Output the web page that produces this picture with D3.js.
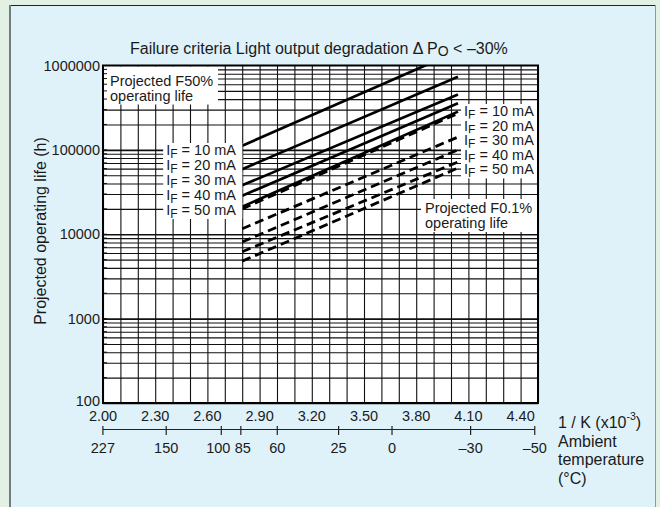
<!DOCTYPE html>
<html><head><meta charset="utf-8">
<script src="https://cdn.jsdelivr.net/npm/d3@7"></script>
<style>
html,body{margin:0;padding:0;background:#e3f1e4;}
svg{display:block;font-family:"Liberation Sans",Arial,Helvetica,sans-serif;}
</style></head>
<body>
<svg id="c" width="660" height="507"></svg>
<script>
// ---- data ----
const currents = [10, 20, 30, 40, 50];              // IF (mA)
const invK = [2.80, 4.04];                           // 1/K (x10^-3) span of the lines
const f50Start = [112000, 59000, 38000, 28600, 21200];
const f50End   = [1480000, 737000, 453000, 357000, 284000];
const f01Start = [20000, 11600, 8100, 6200, 4800];
const f01End   = [270000, 142000, 100000, 72000, 61000];
const xTickLabels = [2.00, 2.30, 2.60, 2.90, 3.20, 3.50, 3.80, 4.10, 4.40];
const yTickLabels = [100, 1000, 10000, 100000, 1000000];
const tempTicks = [227, 150, 100, 85, 60, 25, 0, -30, -50];

const svg = d3.select("#c");
// panel
svg.append("rect").attr("x",10).attr("y",5).attr("width",646).attr("height",510)
  .attr("fill","#dff2fa").attr("stroke","none");
svg.append("line").attr("x1",10).attr("x2",656).attr("y1",5.5).attr("y2",5.5).attr("stroke","#222").attr("stroke-width",1);
svg.append("line").attr("x1",10).attr("x2",10).attr("y1",5).attr("y2",507).attr("stroke","#6d7d82").attr("stroke-width",2);
svg.append("line").attr("x1",655.5).attr("x2",655.5).attr("y1",5).attr("y2",507).attr("stroke","#8a9aa0").attr("stroke-width",1);

const x = d3.scaleLinear().domain([2.0, 4.5]).range([103, 538]);
const y = d3.scaleLog().domain([100, 1e6]).range([403, 65.5]);
const X0 = x.range()[0], X1 = x.range()[1], Y0 = y.range()[1], Y1 = y.range()[0];

const txt = "#1a1a1a";
// plot background
svg.append("rect").attr("x",X0).attr("y",Y0).attr("width",X1-X0).attr("height",Y1-Y0).attr("fill","#fff");

// grid via axes
const vTicks = d3.range(0, 26).map(i => 2.0 + i*0.1);
const gV = svg.append("g").attr("transform",`translate(0,${Y1})`)
  .call(d3.axisBottom(x).tickValues(vTicks).tickSize(-(Y1-Y0)).tickFormat(""));
gV.select(".domain").remove();
gV.selectAll("line").attr("stroke","#111").attr("stroke-width",1.1);

const hTicks = [];
for (let e = 2; e < 6; e++) for (let m = 1; m <= 9; m++) hTicks.push(m*Math.pow(10,e));
const gH = svg.append("g").attr("transform",`translate(${X0},0)`)
  .call(d3.axisLeft(y).tickValues(hTicks).tickSize(-(X1-X0)).tickFormat(""));
gH.select(".domain").remove();
gH.selectAll("line").attr("stroke","#111")
  .attr("stroke-width", d => (Math.abs(Math.log10(d) - Math.round(Math.log10(d))) < 1e-9) ? 1.7 : 1.1);

// lines
svg.append("clipPath").attr("id","pc").append("rect")
  .attr("x",X0).attr("y",Y0).attr("width",X1-X0).attr("height",Y1-Y0);
const line = d3.line().x(d => x(d[0])).y(d => y(d[1]));
const gl = svg.append("g").attr("clip-path","url(#pc)");
currents.forEach((c,i) => {
  gl.append("path").datum([[invK[0], f01Start[i]],[invK[1], f01End[i]]])
    .attr("d", line).attr("fill","none").attr("stroke","#000").attr("stroke-width",2.8)
    .attr("stroke-dasharray","9,5");
});
currents.forEach((c,i) => {
  gl.append("path").datum([[invK[0], f50Start[i]],[invK[1], f50End[i]]])
    .attr("d", line).attr("fill","none").attr("stroke","#000").attr("stroke-width",2.7);
});

// annotation helper with white box
function label(g, parts, px, py, anchor, fs) {
  fs = fs || 14.5;
  const t = g.append("text").attr("x",px).attr("y",py).attr("font-size",fs)
    .attr("fill",txt).attr("text-anchor",anchor).attr("dominant-baseline","central");
  parts.forEach(p => {
    const s = t.append("tspan").text(p.t);
    if (p.sub) s.attr("font-size",12).attr("dy",4);
    if (p.back) s.attr("dy",-4);
  });
  return t;
}
function boxed(parts, px, py, anchor, pad) {
  const g = svg.append("g");
  const r = g.append("rect").attr("fill","#fff");
  const t = label(g, parts, px, py, anchor);
  const b = t.node().getBBox();
  r.attr("x", b.x - pad[0]).attr("y", b.y - pad[1]).attr("width", b.width + pad[0] + pad[2]).attr("height", b.height + pad[1] + pad[3]);
}
// left IF labels
currents.forEach((c,i) => {
  boxed([{t:"I"},{t:"F",sub:true},{t:" = " + c + " mA", back:true}], 236, 150 + i*15, "end", [3,-1,6,-2]);
});
// right IF labels
currents.forEach((c,i) => {
  boxed([{t:"I"},{t:"F",sub:true},{t:" = " + c + " mA", back:true}], 464, 111 + i*14.6, "start", [3,-1,3,-2]);
});
// F50 box
{
  const g = svg.append("g");
  g.append("rect").attr("x",X0+1).attr("y",Y0+1).attr("width",114).attr("height",38).attr("fill","#fff");
  label(g,[{t:"Projected F50%"}],110,81,"start");
  label(g,[{t:"operating life"}],110,96,"start");
}
// F0.1 box
{
  const g = svg.append("g");
  g.append("rect").attr("x",421).attr("y",199).attr("width",116).attr("height",33).attr("fill","#fff");
  label(g,[{t:"Projected F0.1%"}],425,208,"start");
  label(g,[{t:"operating life"}],425,223,"start");
}
// left inner ticks (over boxes)
svg.append("g").selectAll("line").data(hTicks).join("line")
  .attr("x1",X0).attr("x2",X0+4).attr("y1",d=>y(d)).attr("y2",d=>y(d)).attr("stroke","#111").attr("stroke-width",1);

// plot border
svg.append("rect").attr("x",X0).attr("y",Y0).attr("width",X1-X0).attr("height",Y1-Y0)
  .attr("fill","none").attr("stroke","#000").attr("stroke-width",2);

// y tick labels
svg.append("g").selectAll("text").data(yTickLabels).join("text")
  .attr("x",100).attr("y",d=>y(d) - (d===100 ? 2 : 0)).attr("text-anchor","end").attr("dominant-baseline","central")
  .attr("font-size",14.5).attr("fill",txt).text(d=>d);
// x tick labels
svg.append("g").selectAll("text").data(xTickLabels).join("text")
  .attr("x",d=>x(d)).attr("y",416).attr("text-anchor","middle").attr("dominant-baseline","central")
  .attr("font-size",14.5).attr("fill",txt).text(d=>d.toFixed(2));

// temperature axis
const tx = t => x(1000/(t+273.15));
svg.append("line").attr("x1",tx(227)).attr("x2",tx(-50)).attr("y1",429.5).attr("y2",429.5).attr("stroke","#222").attr("stroke-width",1.2);
svg.append("g").selectAll("line").data(tempTicks).join("line")
  .attr("x1",d=>tx(d)).attr("x2",d=>tx(d)).attr("y1",426).attr("y2",435).attr("stroke","#222").attr("stroke-width",1.2);
svg.append("g").selectAll("text").data(tempTicks).join("text")
  .attr("x",d=>tx(d) + (d===100 ? -3 : d===85 ? 2 : 0)).attr("y",448).attr("text-anchor","middle").attr("dominant-baseline","central")
  .attr("font-size",14.5).attr("fill",txt).text(d=>d<0 ? "\u2013"+Math.abs(d) : d);

// axis titles
{
  const t = svg.append("text").attr("x",558).attr("y",422).attr("dominant-baseline","central")
    .attr("font-size",16).attr("fill",txt);
  t.append("tspan").text("1 / K (x10");
  t.append("tspan").text("-3").attr("font-size",10.5).attr("dy",-6);
  t.append("tspan").text(")").attr("dy",6);
  ["Ambient","temperature","(\u00B0C)"].forEach((s,i) =>
    svg.append("text").attr("x",558).attr("y",441+i*18.5).attr("dominant-baseline","central")
      .attr("font-size",16).attr("fill",txt).text(s));
}
svg.append("text").attr("transform","translate(40,231) rotate(-90)").attr("text-anchor","middle")
  .attr("dominant-baseline","central").attr("font-size",16).attr("fill",txt).text("Projected operating life (h)");
{
  const t = svg.append("text").attr("x",130).attr("y",48).attr("dominant-baseline","central")
    .attr("font-size",16).attr("fill",txt);
  t.append("tspan").text("Failure criteria  Light output degradation \u0394 P");
  t.append("tspan").text("O").attr("font-size",14).attr("dy",3);
  t.append("tspan").text(" < \u201330%").attr("dy",-3);
}
</script>
</body></html>
